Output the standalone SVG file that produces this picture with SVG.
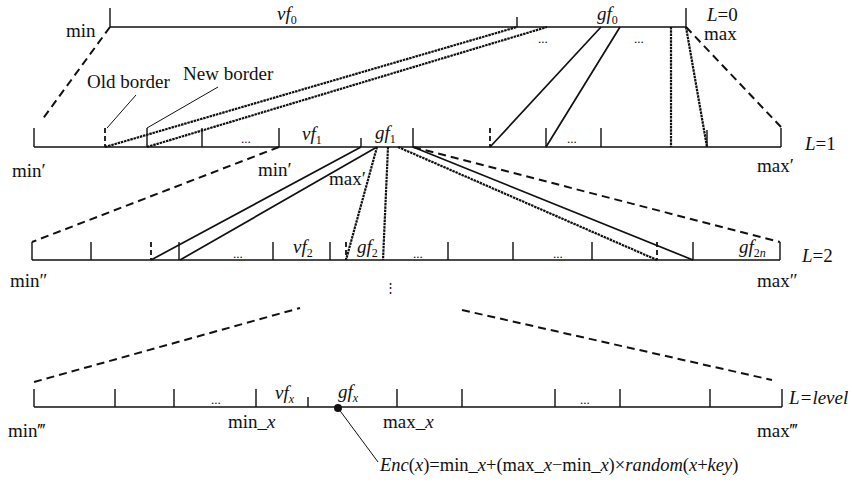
<svg xmlns="http://www.w3.org/2000/svg" width="852" height="483" viewBox="0 0 852 483">
<style>
text{font-family:"Liberation Serif","Times New Roman",serif;font-size:19px;fill:#111}
.i{font-style:italic}
.sub{font-size:12px}
.dots{font-size:13px}
.ax{stroke:#111;stroke-width:1.4;fill:none}
.dash{stroke:#111;stroke-width:2;stroke-dasharray:8,5;fill:none}
.dotl{stroke:#111;stroke-width:2.2;stroke-dasharray:2.5,0.8;fill:none}
.sol{stroke:#111;stroke-width:1.7;fill:none}
.thin{stroke:#111;stroke-width:1;fill:none}
.dtick{stroke:#111;stroke-width:1.8;stroke-dasharray:5,3;fill:none}
</style>
<rect width="852" height="483" fill="#fff"/>

<g id="level0">
<path class="ax" d="M110,27H686M110,8V27M686,8V27M517,17V27"/>
<text x="66" y="37">min</text>
<text x="277" y="20" class="i">vf<tspan class="sub" font-style="normal" dy="4">0</tspan></text>
<text x="597" y="20" class="i">gf<tspan class="sub" font-style="normal" dy="4">0</tspan></text>
<text x="707" y="21"><tspan class="i">L</tspan>=0</text>
<text x="704" y="40">max</text>
<text x="538" y="43" class="dots">...</text>
<text x="634" y="43" class="dots">...</text>
</g>

<g id="level1">
<path class="ax" d="M34,147H781M34,128V147M147,128V147M202,128V147M279,128V147M361,138V147M413,128V147M546,128V147M601,128V147M707,130V147M781,128V147"/>
<path class="dtick" d="M105,128V147M490,128V147"/>
<text x="12" y="177">min′</text>
<text x="302" y="140" class="i">vf<tspan class="sub" font-style="normal" dy="4">1</tspan></text>
<text x="375" y="139" class="i">gf<tspan class="sub" font-style="normal" dy="4">1</tspan></text>
<text x="241" y="143" class="dots">...</text>
<text x="567" y="143" class="dots">...</text>
<text x="258" y="176">min′</text>
<text x="329" y="185">max′</text>
<text x="757" y="172">max′</text>
<text x="805" y="150"><tspan class="i">L</tspan>=1</text>
</g>

<g id="level2">
<path class="ax" d="M32,260H780M32,242V260M91,242V260M179,242V260M273,242V260M330,242V260M448,242V260M513,242V260M592,242V260M693,242V260M780,242V260"/>
<path class="dtick" d="M151,242V260M346,242V260M657,242V260"/>
<text x="10" y="287">min″</text>
<text x="293" y="253" class="i">vf<tspan class="sub" font-style="normal" dy="4">2</tspan></text>
<text x="357" y="253" class="i">gf<tspan class="sub" font-style="normal" dy="4">2</tspan></text>
<text x="739" y="253" class="i">gf<tspan class="sub" font-style="normal" dy="4">2</tspan><tspan class="sub">n</tspan></text>
<text x="233" y="258" class="dots">...</text>
<text x="413" y="258" class="dots">...</text>
<text x="553" y="258" class="dots">...</text>
<text x="802" y="262"><tspan class="i">L</tspan>=2</text>
<text x="757" y="287">max″</text>
<text x="384" y="292" class="dots">⋮</text>
</g>

<g id="level3">
<path class="ax" d="M34,407H782M34,389V407M115,389V407M174,389V407M256,389V407M308,397V407M397,389V407M462,389V407M555,389V407M620,389V407M710,389V407M782,389V407"/>
<text x="8" y="437">min‴</text>
<text x="211" y="404" class="dots">...</text>
<text x="580" y="404" class="dots">...</text>
<text x="275" y="399" class="i">vf<tspan class="sub" dy="4">x</tspan></text>
<text x="338" y="398" class="i">gf<tspan class="sub" dy="4">x</tspan></text>
<text x="228" y="428">min_<tspan class="i">x</tspan></text>
<text x="383" y="428">max_<tspan class="i">x</tspan></text>
<text x="789" y="404" class="i">L=level</text>
<text x="757" y="437">max‴</text>
<circle cx="338" cy="408" r="4" fill="#111"/>
<text x="380" y="471" style="font-size:18.5px"><tspan class="i">Enc</tspan>(<tspan class="i">x</tspan>)=min_<tspan class="i">x</tspan>+(max_<tspan class="i">x</tspan>−min_<tspan class="i">x</tspan>)×<tspan class="i">random</tspan>(<tspan class="i">x</tspan>+<tspan class="i">key</tspan>)</text>
</g>

<g id="annotations">
<text x="87" y="88">Old border</text>
<text x="183" y="80">New border</text>
<path class="thin" d="M107,128L136,95M147,128L218,87M338,408L378,462"/>
</g>

<g id="connectors">
<path class="dash" d="M110,27L42,120M686,27L781,127M279,147L32,242M413,147L780,242M34,382L300,308M462,310L772,380"/>
<path class="dotl" d="M105,147L517,27M147,147L547,27M671,27V147M686,27L707,147M377,147L346,260M388,147L383,260M398,147L657,260"/>
<path class="sol" d="M490,147L601,27M546,147L620,27M361,147L151,260M377,147L180,260M413,147L693,260"/>
</g>
</svg>
